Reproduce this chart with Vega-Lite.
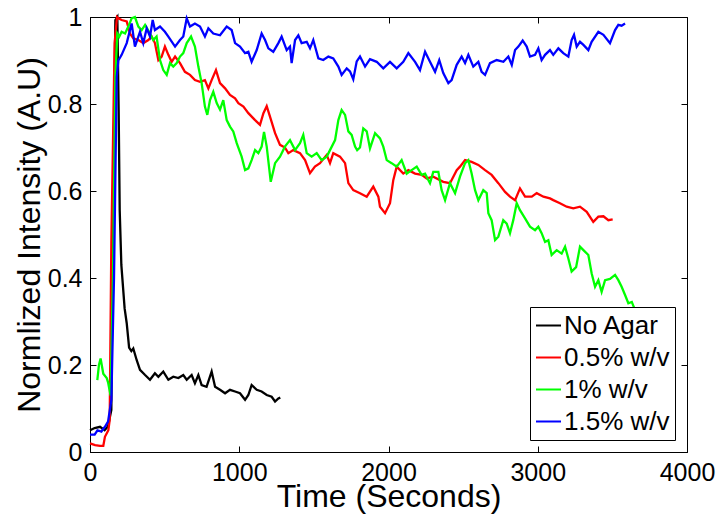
{
  "$schema": "https://vega.github.io/schema/vega-lite/v6.json",
  "width": 597,
  "height": 435,
  "autosize": {"type": "none"},
  "padding": {"left": 90, "top": 17, "right": 29, "bottom": 64},
  "background": "white",
  "config": {
    "view": {"stroke": "black", "strokeWidth": 1},
    "font": "Liberation Sans",
    "axis": {
      "grid": false,
      "domainColor": "black",
      "tickColor": "black",
      "labelColor": "black",
      "titleColor": "black",
      "labelFont": "Liberation Sans",
      "titleFont": "Liberation Sans",
      "labelFontWeight": "normal",
      "titleFontWeight": "normal",
      "labelFontSize": 25,
      "titleFontSize": 32,
      "labelFlush": false,
      "labelOverlap": false,
      "labelBound": false,
      "tickSize": -6
    },
    "legend": {
      "orient": "bottom-right",
      "offset": 12,
      "strokeColor": "black",
      "fillColor": "white",
      "padding": 5,
      "labelFont": "Liberation Sans",
      "labelFontSize": 26,
      "labelColor": "black",
      "labelLimit": 300,
      "labelOffset": 2,
      "symbolType": "stroke",
      "symbolSize": 625,
      "symbolStrokeWidth": 2,
      "rowPadding": 5,
      "cornerRadius": 0
    }
  },
  "data": {
    "values": [
      {"s":"No Agar","t":0,"v":0.05},{"s":"No Agar","t":31,"v":0.055},{"s":"No Agar","t":67,"v":0.058},{"s":"No Agar","t":98,"v":0.05},{"s":"No Agar","t":121,"v":0.059},{"s":"No Agar","t":143,"v":0.097},{"s":"No Agar","t":154,"v":0.556},{"s":"No Agar","t":170,"v":0.993},{"s":"No Agar","t":183,"v":1.0},{"s":"No Agar","t":192,"v":0.786},{"s":"No Agar","t":199,"v":0.556},{"s":"No Agar","t":210,"v":0.43},{"s":"No Agar","t":232,"v":0.33},{"s":"No Agar","t":246,"v":0.296},{"s":"No Agar","t":262,"v":0.24},{"s":"No Agar","t":277,"v":0.232},{"s":"No Agar","t":290,"v":0.238},{"s":"No Agar","t":313,"v":0.211},{"s":"No Agar","t":335,"v":0.189},{"s":"No Agar","t":369,"v":0.177},{"s":"No Agar","t":402,"v":0.166},{"s":"No Agar","t":435,"v":0.181},{"s":"No Agar","t":458,"v":0.173},{"s":"No Agar","t":491,"v":0.185},{"s":"No Agar","t":525,"v":0.166},{"s":"No Agar","t":558,"v":0.173},{"s":"No Agar","t":592,"v":0.17},{"s":"No Agar","t":625,"v":0.177},{"s":"No Agar","t":648,"v":0.166},{"s":"No Agar","t":681,"v":0.177},{"s":"No Agar","t":703,"v":0.158},{"s":"No Agar","t":726,"v":0.177},{"s":"No Agar","t":748,"v":0.154},{"s":"No Agar","t":781,"v":0.15},{"s":"No Agar","t":815,"v":0.185},{"s":"No Agar","t":838,"v":0.15},{"s":"No Agar","t":871,"v":0.143},{"s":"No Agar","t":905,"v":0.135},{"s":"No Agar","t":938,"v":0.143},{"s":"No Agar","t":972,"v":0.139},{"s":"No Agar","t":1005,"v":0.135},{"s":"No Agar","t":1039,"v":0.12},{"s":"No Agar","t":1061,"v":0.131},{"s":"No Agar","t":1083,"v":0.154},{"s":"No Agar","t":1117,"v":0.143},{"s":"No Agar","t":1150,"v":0.139},{"s":"No Agar","t":1184,"v":0.131},{"s":"No Agar","t":1217,"v":0.127},{"s":"No Agar","t":1240,"v":0.116},{"s":"No Agar","t":1262,"v":0.123},{"s":"No Agar","t":1275,"v":0.125},

      {"s":"0.5% w/v","t":0,"v":0.02},{"s":"0.5% w/v","t":34,"v":0.016},{"s":"0.5% w/v","t":67,"v":0.014},{"s":"0.5% w/v","t":89,"v":0.014},{"s":"0.5% w/v","t":100,"v":0.035},{"s":"0.5% w/v","t":123,"v":0.05},{"s":"0.5% w/v","t":132,"v":0.074},{"s":"0.5% w/v","t":143,"v":0.48},{"s":"0.5% w/v","t":165,"v":0.94},{"s":"0.5% w/v","t":181,"v":1.0},{"s":"0.5% w/v","t":190,"v":0.997},{"s":"0.5% w/v","t":212,"v":0.993},{"s":"0.5% w/v","t":246,"v":0.99},{"s":"0.5% w/v","t":268,"v":0.962},{"s":"0.5% w/v","t":290,"v":0.951},{"s":"0.5% w/v","t":324,"v":0.947},{"s":"0.5% w/v","t":357,"v":0.94},{"s":"0.5% w/v","t":391,"v":0.947},{"s":"0.5% w/v","t":413,"v":0.955},{"s":"0.5% w/v","t":435,"v":0.94},{"s":"0.5% w/v","t":458,"v":0.901},{"s":"0.5% w/v","t":480,"v":0.909},{"s":"0.5% w/v","t":502,"v":0.932},{"s":"0.5% w/v","t":525,"v":0.913},{"s":"0.5% w/v","t":547,"v":0.897},{"s":"0.5% w/v","t":570,"v":0.909},{"s":"0.5% w/v","t":603,"v":0.894},{"s":"0.5% w/v","t":636,"v":0.874},{"s":"0.5% w/v","t":670,"v":0.867},{"s":"0.5% w/v","t":703,"v":0.855},{"s":"0.5% w/v","t":737,"v":0.851},{"s":"0.5% w/v","t":770,"v":0.855},{"s":"0.5% w/v","t":793,"v":0.836},{"s":"0.5% w/v","t":815,"v":0.855},{"s":"0.5% w/v","t":844,"v":0.878},{"s":"0.5% w/v","t":871,"v":0.848},{"s":"0.5% w/v","t":905,"v":0.836},{"s":"0.5% w/v","t":938,"v":0.821},{"s":"0.5% w/v","t":972,"v":0.813},{"s":"0.5% w/v","t":994,"v":0.802},{"s":"0.5% w/v","t":1028,"v":0.794},{"s":"0.5% w/v","t":1061,"v":0.779},{"s":"0.5% w/v","t":1106,"v":0.763},{"s":"0.5% w/v","t":1139,"v":0.752},{"s":"0.5% w/v","t":1162,"v":0.779},{"s":"0.5% w/v","t":1184,"v":0.795},{"s":"0.5% w/v","t":1206,"v":0.771},{"s":"0.5% w/v","t":1240,"v":0.733},{"s":"0.5% w/v","t":1273,"v":0.706},{"s":"0.5% w/v","t":1306,"v":0.7},{"s":"0.5% w/v","t":1329,"v":0.687},{"s":"0.5% w/v","t":1362,"v":0.694},{"s":"0.5% w/v","t":1407,"v":0.687},{"s":"0.5% w/v","t":1441,"v":0.671},{"s":"0.5% w/v","t":1474,"v":0.641},{"s":"0.5% w/v","t":1507,"v":0.656},{"s":"0.5% w/v","t":1541,"v":0.664},{"s":"0.5% w/v","t":1586,"v":0.683},{"s":"0.5% w/v","t":1608,"v":0.664},{"s":"0.5% w/v","t":1630,"v":0.687},{"s":"0.5% w/v","t":1675,"v":0.679},{"s":"0.5% w/v","t":1709,"v":0.664},{"s":"0.5% w/v","t":1731,"v":0.618},{"s":"0.5% w/v","t":1764,"v":0.602},{"s":"0.5% w/v","t":1809,"v":0.595},{"s":"0.5% w/v","t":1854,"v":0.587},{"s":"0.5% w/v","t":1898,"v":0.61},{"s":"0.5% w/v","t":1932,"v":0.587},{"s":"0.5% w/v","t":1943,"v":0.564},{"s":"0.5% w/v","t":1977,"v":0.549},{"s":"0.5% w/v","t":2010,"v":0.572},{"s":"0.5% w/v","t":2032,"v":0.625},{"s":"0.5% w/v","t":2055,"v":0.656},{"s":"0.5% w/v","t":2099,"v":0.64},{"s":"0.5% w/v","t":2133,"v":0.648},{"s":"0.5% w/v","t":2178,"v":0.64},{"s":"0.5% w/v","t":2222,"v":0.637},{"s":"0.5% w/v","t":2256,"v":0.629},{"s":"0.5% w/v","t":2300,"v":0.633},{"s":"0.5% w/v","t":2367,"v":0.621},{"s":"0.5% w/v","t":2412,"v":0.618},{"s":"0.5% w/v","t":2457,"v":0.648},{"s":"0.5% w/v","t":2479,"v":0.656},{"s":"0.5% w/v","t":2513,"v":0.671},{"s":"0.5% w/v","t":2557,"v":0.667},{"s":"0.5% w/v","t":2602,"v":0.66},{"s":"0.5% w/v","t":2647,"v":0.648},{"s":"0.5% w/v","t":2691,"v":0.637},{"s":"0.5% w/v","t":2736,"v":0.618},{"s":"0.5% w/v","t":2781,"v":0.598},{"s":"0.5% w/v","t":2814,"v":0.587},{"s":"0.5% w/v","t":2848,"v":0.579},{"s":"0.5% w/v","t":2881,"v":0.606},{"s":"0.5% w/v","t":2915,"v":0.587},{"s":"0.5% w/v","t":2960,"v":0.587},{"s":"0.5% w/v","t":2993,"v":0.595},{"s":"0.5% w/v","t":3038,"v":0.587},{"s":"0.5% w/v","t":3082,"v":0.583},{"s":"0.5% w/v","t":3104,"v":0.579},{"s":"0.5% w/v","t":3149,"v":0.572},{"s":"0.5% w/v","t":3194,"v":0.564},{"s":"0.5% w/v","t":3238,"v":0.56},{"s":"0.5% w/v","t":3283,"v":0.564},{"s":"0.5% w/v","t":3328,"v":0.552},{"s":"0.5% w/v","t":3372,"v":0.529},{"s":"0.5% w/v","t":3406,"v":0.541},{"s":"0.5% w/v","t":3440,"v":0.542},{"s":"0.5% w/v","t":3473,"v":0.533},{"s":"0.5% w/v","t":3502,"v":0.535},

      {"s":"1% w/v","t":49,"v":0.165},{"s":"1% w/v","t":60,"v":0.2},{"s":"1% w/v","t":71,"v":0.215},{"s":"1% w/v","t":89,"v":0.18},{"s":"1% w/v","t":112,"v":0.17},{"s":"1% w/v","t":121,"v":0.16},{"s":"1% w/v","t":138,"v":0.13},{"s":"1% w/v","t":154,"v":0.403},{"s":"1% w/v","t":170,"v":0.863},{"s":"1% w/v","t":183,"v":0.962},{"s":"1% w/v","t":196,"v":0.955},{"s":"1% w/v","t":212,"v":0.966},{"s":"1% w/v","t":235,"v":0.962},{"s":"1% w/v","t":257,"v":0.978},{"s":"1% w/v","t":279,"v":0.997},{"s":"1% w/v","t":301,"v":1.0},{"s":"1% w/v","t":324,"v":0.978},{"s":"1% w/v","t":346,"v":0.97},{"s":"1% w/v","t":369,"v":0.982},{"s":"1% w/v","t":402,"v":0.962},{"s":"1% w/v","t":424,"v":0.947},{"s":"1% w/v","t":446,"v":0.955},{"s":"1% w/v","t":469,"v":0.901},{"s":"1% w/v","t":491,"v":0.878},{"s":"1% w/v","t":514,"v":0.867},{"s":"1% w/v","t":536,"v":0.894},{"s":"1% w/v","t":558,"v":0.886},{"s":"1% w/v","t":581,"v":0.894},{"s":"1% w/v","t":603,"v":0.909},{"s":"1% w/v","t":625,"v":0.917},{"s":"1% w/v","t":648,"v":0.94},{"s":"1% w/v","t":677,"v":0.955},{"s":"1% w/v","t":703,"v":0.932},{"s":"1% w/v","t":726,"v":0.886},{"s":"1% w/v","t":748,"v":0.848},{"s":"1% w/v","t":770,"v":0.794},{"s":"1% w/v","t":786,"v":0.775},{"s":"1% w/v","t":804,"v":0.809},{"s":"1% w/v","t":826,"v":0.828},{"s":"1% w/v","t":849,"v":0.802},{"s":"1% w/v","t":871,"v":0.787},{"s":"1% w/v","t":893,"v":0.809},{"s":"1% w/v","t":916,"v":0.763},{"s":"1% w/v","t":938,"v":0.748},{"s":"1% w/v","t":960,"v":0.737},{"s":"1% w/v","t":983,"v":0.71},{"s":"1% w/v","t":1016,"v":0.679},{"s":"1% w/v","t":1039,"v":0.648},{"s":"1% w/v","t":1061,"v":0.652},{"s":"1% w/v","t":1083,"v":0.671},{"s":"1% w/v","t":1106,"v":0.694},{"s":"1% w/v","t":1128,"v":0.687},{"s":"1% w/v","t":1150,"v":0.702},{"s":"1% w/v","t":1166,"v":0.736},{"s":"1% w/v","t":1184,"v":0.702},{"s":"1% w/v","t":1211,"v":0.621},{"s":"1% w/v","t":1240,"v":0.664},{"s":"1% w/v","t":1273,"v":0.679},{"s":"1% w/v","t":1306,"v":0.702},{"s":"1% w/v","t":1340,"v":0.717},{"s":"1% w/v","t":1374,"v":0.694},{"s":"1% w/v","t":1407,"v":0.71},{"s":"1% w/v","t":1429,"v":0.729},{"s":"1% w/v","t":1452,"v":0.687},{"s":"1% w/v","t":1485,"v":0.679},{"s":"1% w/v","t":1519,"v":0.687},{"s":"1% w/v","t":1552,"v":0.671},{"s":"1% w/v","t":1586,"v":0.679},{"s":"1% w/v","t":1608,"v":0.694},{"s":"1% w/v","t":1642,"v":0.717},{"s":"1% w/v","t":1664,"v":0.763},{"s":"1% w/v","t":1686,"v":0.786},{"s":"1% w/v","t":1709,"v":0.775},{"s":"1% w/v","t":1731,"v":0.737},{"s":"1% w/v","t":1753,"v":0.729},{"s":"1% w/v","t":1776,"v":0.702},{"s":"1% w/v","t":1790,"v":0.694},{"s":"1% w/v","t":1809,"v":0.7},{"s":"1% w/v","t":1831,"v":0.744},{"s":"1% w/v","t":1854,"v":0.737},{"s":"1% w/v","t":1876,"v":0.698},{"s":"1% w/v","t":1910,"v":0.733},{"s":"1% w/v","t":1943,"v":0.721},{"s":"1% w/v","t":1965,"v":0.702},{"s":"1% w/v","t":1988,"v":0.671},{"s":"1% w/v","t":2021,"v":0.664},{"s":"1% w/v","t":2055,"v":0.656},{"s":"1% w/v","t":2088,"v":0.671},{"s":"1% w/v","t":2122,"v":0.64},{"s":"1% w/v","t":2155,"v":0.648},{"s":"1% w/v","t":2189,"v":0.656},{"s":"1% w/v","t":2222,"v":0.637},{"s":"1% w/v","t":2245,"v":0.64},{"s":"1% w/v","t":2278,"v":0.618},{"s":"1% w/v","t":2300,"v":0.644},{"s":"1% w/v","t":2334,"v":0.644},{"s":"1% w/v","t":2356,"v":0.602},{"s":"1% w/v","t":2379,"v":0.579},{"s":"1% w/v","t":2412,"v":0.618},{"s":"1% w/v","t":2446,"v":0.595},{"s":"1% w/v","t":2479,"v":0.633},{"s":"1% w/v","t":2513,"v":0.664},{"s":"1% w/v","t":2535,"v":0.671},{"s":"1% w/v","t":2557,"v":0.64},{"s":"1% w/v","t":2580,"v":0.602},{"s":"1% w/v","t":2602,"v":0.579},{"s":"1% w/v","t":2635,"v":0.602},{"s":"1% w/v","t":2658,"v":0.595},{"s":"1% w/v","t":2669,"v":0.549},{"s":"1% w/v","t":2691,"v":0.533},{"s":"1% w/v","t":2714,"v":0.487},{"s":"1% w/v","t":2736,"v":0.495},{"s":"1% w/v","t":2769,"v":0.533},{"s":"1% w/v","t":2792,"v":0.525},{"s":"1% w/v","t":2814,"v":0.503},{"s":"1% w/v","t":2836,"v":0.533},{"s":"1% w/v","t":2859,"v":0.572},{"s":"1% w/v","t":2881,"v":0.556},{"s":"1% w/v","t":2915,"v":0.537},{"s":"1% w/v","t":2948,"v":0.518},{"s":"1% w/v","t":2982,"v":0.51},{"s":"1% w/v","t":3004,"v":0.518},{"s":"1% w/v","t":3026,"v":0.503},{"s":"1% w/v","t":3049,"v":0.483},{"s":"1% w/v","t":3071,"v":0.487},{"s":"1% w/v","t":3093,"v":0.453},{"s":"1% w/v","t":3127,"v":0.464},{"s":"1% w/v","t":3160,"v":0.456},{"s":"1% w/v","t":3183,"v":0.472},{"s":"1% w/v","t":3205,"v":0.445},{"s":"1% w/v","t":3227,"v":0.415},{"s":"1% w/v","t":3257,"v":0.425},{"s":"1% w/v","t":3283,"v":0.472},{"s":"1% w/v","t":3306,"v":0.464},{"s":"1% w/v","t":3339,"v":0.453},{"s":"1% w/v","t":3361,"v":0.411},{"s":"1% w/v","t":3384,"v":0.38},{"s":"1% w/v","t":3406,"v":0.395},{"s":"1% w/v","t":3428,"v":0.368},{"s":"1% w/v","t":3451,"v":0.395},{"s":"1% w/v","t":3484,"v":0.398},{"s":"1% w/v","t":3518,"v":0.407},{"s":"1% w/v","t":3540,"v":0.395},{"s":"1% w/v","t":3562,"v":0.38},{"s":"1% w/v","t":3585,"v":0.361},{"s":"1% w/v","t":3607,"v":0.342},{"s":"1% w/v","t":3630,"v":0.345},{"s":"1% w/v","t":3652,"v":0.326},

      {"s":"1.5% w/v","t":0,"v":0.04},{"s":"1.5% w/v","t":31,"v":0.04},{"s":"1.5% w/v","t":50,"v":0.05},{"s":"1.5% w/v","t":76,"v":0.047},{"s":"1.5% w/v","t":100,"v":0.058},{"s":"1.5% w/v","t":121,"v":0.07},{"s":"1.5% w/v","t":143,"v":0.12},{"s":"1.5% w/v","t":161,"v":0.403},{"s":"1.5% w/v","t":179,"v":0.863},{"s":"1.5% w/v","t":190,"v":0.9},{"s":"1.5% w/v","t":212,"v":0.913},{"s":"1.5% w/v","t":246,"v":0.94},{"s":"1.5% w/v","t":279,"v":0.985},{"s":"1.5% w/v","t":301,"v":0.932},{"s":"1.5% w/v","t":335,"v":0.966},{"s":"1.5% w/v","t":357,"v":0.94},{"s":"1.5% w/v","t":380,"v":0.974},{"s":"1.5% w/v","t":402,"v":0.955},{"s":"1.5% w/v","t":420,"v":0.993},{"s":"1.5% w/v","t":435,"v":0.97},{"s":"1.5% w/v","t":469,"v":0.978},{"s":"1.5% w/v","t":502,"v":0.966},{"s":"1.5% w/v","t":525,"v":0.955},{"s":"1.5% w/v","t":570,"v":0.932},{"s":"1.5% w/v","t":603,"v":0.947},{"s":"1.5% w/v","t":625,"v":0.955},{"s":"1.5% w/v","t":648,"v":0.997},{"s":"1.5% w/v","t":670,"v":0.978},{"s":"1.5% w/v","t":703,"v":0.985},{"s":"1.5% w/v","t":737,"v":0.978},{"s":"1.5% w/v","t":770,"v":0.955},{"s":"1.5% w/v","t":793,"v":0.974},{"s":"1.5% w/v","t":826,"v":0.962},{"s":"1.5% w/v","t":871,"v":0.958},{"s":"1.5% w/v","t":916,"v":0.978},{"s":"1.5% w/v","t":949,"v":0.97},{"s":"1.5% w/v","t":972,"v":0.94},{"s":"1.5% w/v","t":1005,"v":0.932},{"s":"1.5% w/v","t":1039,"v":0.917},{"s":"1.5% w/v","t":1061,"v":0.92},{"s":"1.5% w/v","t":1083,"v":0.897},{"s":"1.5% w/v","t":1117,"v":0.924},{"s":"1.5% w/v","t":1150,"v":0.962},{"s":"1.5% w/v","t":1173,"v":0.947},{"s":"1.5% w/v","t":1195,"v":0.928},{"s":"1.5% w/v","t":1228,"v":0.92},{"s":"1.5% w/v","t":1262,"v":0.94},{"s":"1.5% w/v","t":1284,"v":0.955},{"s":"1.5% w/v","t":1318,"v":0.924},{"s":"1.5% w/v","t":1340,"v":0.932},{"s":"1.5% w/v","t":1351,"v":0.894},{"s":"1.5% w/v","t":1374,"v":0.947},{"s":"1.5% w/v","t":1396,"v":0.958},{"s":"1.5% w/v","t":1418,"v":0.94},{"s":"1.5% w/v","t":1452,"v":0.943},{"s":"1.5% w/v","t":1474,"v":0.928},{"s":"1.5% w/v","t":1496,"v":0.947},{"s":"1.5% w/v","t":1530,"v":0.905},{"s":"1.5% w/v","t":1563,"v":0.901},{"s":"1.5% w/v","t":1597,"v":0.909},{"s":"1.5% w/v","t":1630,"v":0.905},{"s":"1.5% w/v","t":1664,"v":0.886},{"s":"1.5% w/v","t":1686,"v":0.867},{"s":"1.5% w/v","t":1720,"v":0.882},{"s":"1.5% w/v","t":1742,"v":0.875},{"s":"1.5% w/v","t":1764,"v":0.857},{"s":"1.5% w/v","t":1787,"v":0.898},{"s":"1.5% w/v","t":1809,"v":0.909},{"s":"1.5% w/v","t":1843,"v":0.886},{"s":"1.5% w/v","t":1876,"v":0.903},{"s":"1.5% w/v","t":1921,"v":0.897},{"s":"1.5% w/v","t":1965,"v":0.882},{"s":"1.5% w/v","t":2010,"v":0.897},{"s":"1.5% w/v","t":2055,"v":0.882},{"s":"1.5% w/v","t":2099,"v":0.897},{"s":"1.5% w/v","t":2133,"v":0.917},{"s":"1.5% w/v","t":2178,"v":0.897},{"s":"1.5% w/v","t":2211,"v":0.878},{"s":"1.5% w/v","t":2245,"v":0.92},{"s":"1.5% w/v","t":2278,"v":0.897},{"s":"1.5% w/v","t":2312,"v":0.874},{"s":"1.5% w/v","t":2340,"v":0.901},{"s":"1.5% w/v","t":2367,"v":0.871},{"s":"1.5% w/v","t":2401,"v":0.848},{"s":"1.5% w/v","t":2423,"v":0.855},{"s":"1.5% w/v","t":2457,"v":0.89},{"s":"1.5% w/v","t":2490,"v":0.909},{"s":"1.5% w/v","t":2513,"v":0.894},{"s":"1.5% w/v","t":2535,"v":0.913},{"s":"1.5% w/v","t":2568,"v":0.886},{"s":"1.5% w/v","t":2602,"v":0.897},{"s":"1.5% w/v","t":2624,"v":0.874},{"s":"1.5% w/v","t":2647,"v":0.867},{"s":"1.5% w/v","t":2680,"v":0.894},{"s":"1.5% w/v","t":2725,"v":0.901},{"s":"1.5% w/v","t":2770,"v":0.897},{"s":"1.5% w/v","t":2803,"v":0.909},{"s":"1.5% w/v","t":2826,"v":0.89},{"s":"1.5% w/v","t":2848,"v":0.924},{"s":"1.5% w/v","t":2870,"v":0.932},{"s":"1.5% w/v","t":2899,"v":0.946},{"s":"1.5% w/v","t":2926,"v":0.932},{"s":"1.5% w/v","t":2948,"v":0.909},{"s":"1.5% w/v","t":2982,"v":0.913},{"s":"1.5% w/v","t":3004,"v":0.928},{"s":"1.5% w/v","t":3026,"v":0.901},{"s":"1.5% w/v","t":3049,"v":0.913},{"s":"1.5% w/v","t":3082,"v":0.924},{"s":"1.5% w/v","t":3104,"v":0.913},{"s":"1.5% w/v","t":3138,"v":0.928},{"s":"1.5% w/v","t":3171,"v":0.917},{"s":"1.5% w/v","t":3205,"v":0.909},{"s":"1.5% w/v","t":3227,"v":0.947},{"s":"1.5% w/v","t":3243,"v":0.959},{"s":"1.5% w/v","t":3261,"v":0.932},{"s":"1.5% w/v","t":3283,"v":0.943},{"s":"1.5% w/v","t":3306,"v":0.936},{"s":"1.5% w/v","t":3339,"v":0.924},{"s":"1.5% w/v","t":3361,"v":0.943},{"s":"1.5% w/v","t":3406,"v":0.966},{"s":"1.5% w/v","t":3440,"v":0.959},{"s":"1.5% w/v","t":3484,"v":0.94},{"s":"1.5% w/v","t":3518,"v":0.97},{"s":"1.5% w/v","t":3540,"v":0.982},{"s":"1.5% w/v","t":3562,"v":0.98},{"s":"1.5% w/v","t":3585,"v":0.985}
    ]
  },
  "layer": [
    {
      "mark": {"type": "line", "strokeWidth": 2.3, "interpolate": "linear"},
      "encoding": {
        "x": {
          "field": "t", "type": "quantitative",
          "scale": {"domain": [0, 4000], "nice": false, "zero": false},
          "axis": {"orient": "bottom", "values": [0, 1000, 2000, 3000, 4000], "format": "d", "title": "Time (Seconds)", "labelPadding": 14, "titleX": 298.5, "titleY": 54, "titleBaseline": "alphabetic", "titleAnchor": null}
        },
        "y": {
          "field": "v", "type": "quantitative",
          "scale": {"domain": [0, 1], "nice": false, "zero": false},
          "axis": {"orient": "left", "values": [0, 0.2, 0.4, 0.6, 0.8, 1], "format": "~g", "title": "Normlized Intensity (A.U)", "labelPadding": 14, "titleX": -51, "titleY": 217.5, "titleAngle": -90, "titleBaseline": "alphabetic", "titleAlign": "center"}
        },
        "color": {
          "field": "s", "type": "nominal",
          "scale": {"domain": ["No Agar", "0.5% w/v", "1% w/v", "1.5% w/v"], "range": ["#000000", "#ff0000", "#00ff00", "#0000ff"]},
          "legend": {"title": null}
        },
        "order": {"field": "t", "type": "quantitative"}
      }
    },
    {
      "mark": {"type": "line", "opacity": 0},
      "encoding": {
        "x": {
          "field": "t", "type": "quantitative",
          "axis": {"orient": "top", "values": [0, 1000, 2000, 3000, 4000], "labels": false, "domain": false, "title": null}
        },
        "y": {
          "field": "v", "type": "quantitative",
          "axis": {"orient": "right", "values": [0, 0.2, 0.4, 0.6, 0.8, 1], "labels": false, "domain": false, "title": null}
        },
        "detail": {"field": "s", "type": "nominal"}
      }
    }
  ],
  "resolve": {"axis": {"x": "independent", "y": "independent"}}
}
